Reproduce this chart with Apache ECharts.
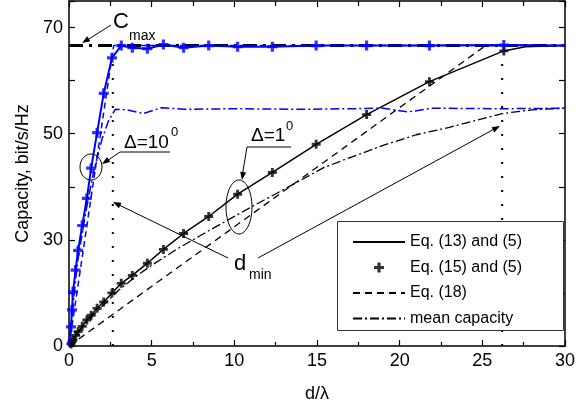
<!DOCTYPE html>
<html>
<head>
<meta charset="utf-8">
<script src="https://cdn.jsdelivr.net/npm/echarts@6/dist/echarts.min.js"></script>
<style>
html, body { margin: 0; padding: 0; background: #fff; }
#chart { width: 578px; height: 411px; }
</style>
</head>
<body>
<div id="chart"></div>
<script>
// d/lambda values where the "+" markers sit (same for both beam widths)
var markX = [0.12, 0.18, 0.24, 0.4, 0.55, 0.8, 1.08, 1.34, 1.7, 2.1, 2.6, 3.16, 3.83, 4.74, 5.71, 6.93, 8.45, 10.2, 12.3, 14.95, 18.0, 21.8, 26.3]
// Eq. (15) and (5), delta = 10 deg (blue) and 1 deg (black)
var blueMarkY = [3.6, 6.8, 10.2, 14.3, 18.0, 22.7, 27.8, 33.5, 40.2, 47.6, 54.3, 56.6, 56.2, 56.0, 56.8, 56.2, 56.6, 56.4, 56.4, 56.6, 56.6, 56.6, 56.7]
var blackMarkY = [0.4, 0.8, 1.1, 2.0, 2.7, 3.7, 4.9, 5.8, 7.1, 8.3, 10.0, 11.8, 13.3, 15.6, 18.2, 21.2, 24.4, 28.6, 32.7, 38.0, 43.6, 49.8, 55.6]

// Eq. (13) and (5)
var blueSolidX = [0, 0.12, 0.18, 0.24, 0.4, 0.55, 0.8, 1.08, 1.34, 1.7, 2.1, 2.6, 3.16, 3.83, 4.74, 5.71, 6.93, 8.45, 10.2, 12.3, 14.95, 18.0, 21.8, 26.3, 30]
var blueSolidY = [0.5, 3.6, 6.8, 10.2, 14.3, 18.0, 22.7, 27.8, 33.5, 40.2, 47.6, 54.3, 56.6, 56.2, 56.0, 56.8, 56.2, 56.6, 56.4, 56.4, 56.6, 56.6, 56.6, 56.7, 56.6]
var blackSolidX = [0, 0.12, 0.18, 0.24, 0.4, 0.55, 0.8, 1.08, 1.34, 1.7, 2.1, 2.6, 3.16, 3.83, 4.74, 5.71, 6.93, 8.45, 10.2, 12.3, 14.95, 18.0, 21.8, 26.3, 27.6, 30]
var blackSolidY = [0, 0.4, 0.8, 1.1, 2.0, 2.7, 3.7, 4.9, 5.8, 7.1, 8.3, 10.0, 11.8, 13.3, 15.6, 18.2, 21.2, 24.4, 28.6, 32.7, 38.0, 43.6, 49.8, 55.6, 56.4, 56.6]

// Eq. (18)
var blueDashX = [0, 2.7, 30]
var blueDashY = [0, 56.6, 56.6]
var blackDashX = [0, 25.2, 30]
var blackDashY = [0, 56.6, 56.6]

// mean capacity
var blueMeanX = [0, 0.5, 1.0, 1.5, 2.0, 2.4, 2.8, 3.5, 4.5, 5.6, 7, 10, 14, 17, 19, 20.5, 22, 26, 30]
var blueMeanY = [0, 15.5, 25, 33, 39, 42.5, 44.6, 44.5, 43.8, 44.9, 44.6, 44.7, 44.6, 44.7, 44.8, 44.1, 44.8, 44.7, 44.8]
var blackMeanX = [0, 0.5, 1, 2, 3, 4, 5, 6.6, 8.5, 11.2, 13, 15.4, 17, 19, 21, 23, 26.2, 28, 30]
var blackMeanY = [0, 2.3, 4.3, 7.5, 10.5, 13, 15.2, 18.4, 21.8, 26.5, 29.5, 33.6, 35.5, 37.8, 39.8, 41.2, 43.8, 44.5, 44.8]

// C max level and the two d_min markers
var cmaxX = [0, 30]
var cmaxY = [56.6, 56.6]
var dmin10X = [2.65, 2.65]
var dmin1X = [26.2, 26.2]
var dminY = [0, 55]

// y ticks: evenly spaced, labelled as in the figure
var yTickValues = [0, 20, 40, 60]
var yTickLabels = ['0', '30', '50', '70']

var FONT = 'Liberation Sans, Arial, sans-serif'
var BLUE = '#0000ff'
var PLUS = 'path://M3.4,0H6.6V3.4H10V6.6H6.6V10H3.4V6.6H0V3.4H3.4Z'

function pairs(xs, ys) {
	return xs.map(function(x, i) {
		return [x, ys[i]]
	})
}

function arrowHead(x1, y1, x2, y2) {
	// small filled triangle pointing at (x2, y2)
	var a = Math.atan2(y2 - y1, x2 - x1)
	var len = 8
	var w = 3
	var bx = x2 - len * Math.cos(a)
	var by = y2 - len * Math.sin(a)
	return {
		type: 'polygon',
		z: 10,
		shape: {
			points: [
				[x2, y2],
				[bx + w * Math.sin(a), by - w * Math.cos(a)],
				[bx - w * Math.sin(a), by + w * Math.cos(a)]
			]
		},
		style: { fill: '#000' }
	}
}

function segment(x1, y1, x2, y2) {
	return {
		type: 'line',
		z: 10,
		shape: { x1: x1, y1: y1, x2: x2, y2: y2 },
		style: { stroke: '#000', lineWidth: 1 }
	}
}

function label(text, x, y, size) {
	return {
		type: 'text',
		z: 10,
		x: x,
		y: y,
		style: { text: text, font: size + 'px ' + FONT, fill: '#000' }
	}
}

var lineSeries = function(name, xs, ys, color, width, type, z) {
	return {
		name: name,
		type: 'line',
		data: pairs(xs, ys),
		symbol: 'none',
		showSymbol: false,
		z: z,
		lineStyle: { color: color, width: width, type: type },
		itemStyle: { color: color }
	}
}

var axisCommon = {
	type: 'value',
	axisLine: { show: true, onZero: false, lineStyle: { color: '#000', width: 1.5 } },
	axisTick: { show: true, inside: true, length: 6, lineStyle: { color: '#000', width: 1.2 } },
	splitLine: { show: false }
}

var option = {
	backgroundColor: '#fff',
	animation: false,
	grid: { left: 69, right: 12, top: 1, bottom: 65 },
	xAxis: [
		Object.assign({}, axisCommon, {
			min: 0,
			max: 30,
			interval: 5,
			name: 'd/\u03bb',
			nameLocation: 'middle',
			nameGap: 39,
			nameTextStyle: { fontSize: 18, color: '#000', fontFamily: FONT },
			minorTick: { show: true, splitNumber: 2, length: 4, lineStyle: { color: '#000', width: 1.2 } },
			axisLabel: { fontSize: 18, color: '#000', fontFamily: FONT, margin: 6 }
		}),
		Object.assign({}, axisCommon, {
			position: 'top',
			min: 0,
			max: 30,
			interval: 5,
			minorTick: { show: true, splitNumber: 2, length: 5, lineStyle: { color: '#000', width: 1.2 } },
			axisLabel: { show: false }
		})
	],
	yAxis: [
		Object.assign({}, axisCommon, {
			min: 0,
			max: 65,
			interval: 10,
			name: 'Capacity, bit/s/Hz',
			nameLocation: 'middle',
			nameGap: 33,
			nameTextStyle: { fontSize: 18, color: '#000', fontFamily: FONT },
			axisLabel: {
				fontSize: 18,
				color: '#000',
				fontFamily: FONT,
				margin: 6,
				formatter: function(v) {
					var k = yTickValues.indexOf(v)
					return k < 0 ? '' : yTickLabels[k]
				}
			}
		}),
		Object.assign({}, axisCommon, {
			position: 'right',
			min: 0,
			max: 65,
			interval: 10,
			axisLabel: { show: false }
		})
	],
	legend: {
		orient: 'vertical',
		left: 352,
		top: 234,
		itemWidth: 52,
		itemHeight: 10,
		itemGap: 9.5,
		padding: 0,
		textStyle: { fontSize: 16, color: '#000', fontFamily: FONT },
		data: [
			{ name: 'Eq. (13) and (5)', itemStyle: { opacity: 0 } },
			{ name: 'Eq. (15) and (5)' },
			{ name: 'Eq. (18)', itemStyle: { opacity: 0 } },
			{ name: 'mean capacity', itemStyle: { opacity: 0 } }
		]
	},
	graphic: [
		{
			type: 'rect',
			z: 3,
			shape: { x: 337.5, y: 221.5, width: 226, height: 109 },
			style: { fill: '#fff', stroke: '#333', lineWidth: 1 }
		},
		// C max
		label('C', 113, 11, 22),
		label('max', 129, 29, 14),
		segment(111, 25, 84, 42),
		arrowHead(111, 25, 82, 43),
		// delta = 10 deg
		label('\u0394=10', 124, 133, 19),
		label('0', 171, 126, 13),
		segment(120, 152, 170, 152),
		segment(120, 152, 104, 163),
		arrowHead(120, 152, 102, 164),
		{
			type: 'ellipse',
			z: 10,
			shape: { cx: 91, cy: 167, rx: 11, ry: 13 },
			style: { fill: 'none', stroke: '#000', lineWidth: 1 }
		},
		// delta = 1 deg
		label('\u0394=1', 251, 126, 19),
		label('0', 286, 120, 13),
		segment(247, 147, 291, 147),
		segment(247, 147, 242, 177),
		arrowHead(247, 147, 242, 180),
		{
			type: 'ellipse',
			z: 10,
			shape: { cx: 239, cy: 207, rx: 13, ry: 27 },
			style: { fill: 'none', stroke: '#000', lineWidth: 1 }
		},
		// d min
		label('d', 234, 253, 22),
		label('min', 249, 268, 14),
		segment(228, 258, 115, 203),
		arrowHead(228, 258, 113, 202),
		segment(258, 258, 498, 127),
		arrowHead(258, 258, 500, 126)
	],
	series: [
		lineSeries('cmax', cmaxX, cmaxY, '#000', 3, [14, 6, 3, 6], 1),
		lineSeries('dmin10', dmin10X, dminY, '#000', 2, [2, 12], 1),
		lineSeries('dmin1', dmin1X, dminY, '#000', 2, [2, 12], 1),
		lineSeries('Eq. (18)', blackDashX, blackDashY, '#000', 1.3, [7, 5], 2),
		lineSeries('mean capacity', blackMeanX, blackMeanY, '#000', 1.3, [9, 3, 2, 3], 2),
		lineSeries('Eq. (13) and (5)', blackSolidX, blackSolidY, '#000', 1.5, 'solid', 2),
		{
			name: 'Eq. (15) and (5)',
			type: 'scatter',
			data: pairs(markX, blackMarkY),
			symbol: PLUS,
			symbolSize: 9,
			symbolKeepAspect: true,
			z: 3,
			itemStyle: { color: '#000' }
		},
		lineSeries('blue eq18', blueDashX, blueDashY, BLUE, 1.5, [6, 4], 4),
		lineSeries('blue mean', blueMeanX, blueMeanY, BLUE, 1.5, [9, 3, 2, 3], 4),
		lineSeries('blue eq13', blueSolidX, blueSolidY, BLUE, 2, 'solid', 4),
		{
			name: 'blue eq15',
			type: 'scatter',
			data: pairs(markX, blueMarkY),
			symbol: PLUS,
			symbolSize: 10,
			symbolKeepAspect: true,
			z: 5,
			itemStyle: { color: BLUE }
		}
	]
}

var myChart = echarts.init(document.getElementById('chart'))
myChart.setOption(option)
</script>
</body>
</html>
